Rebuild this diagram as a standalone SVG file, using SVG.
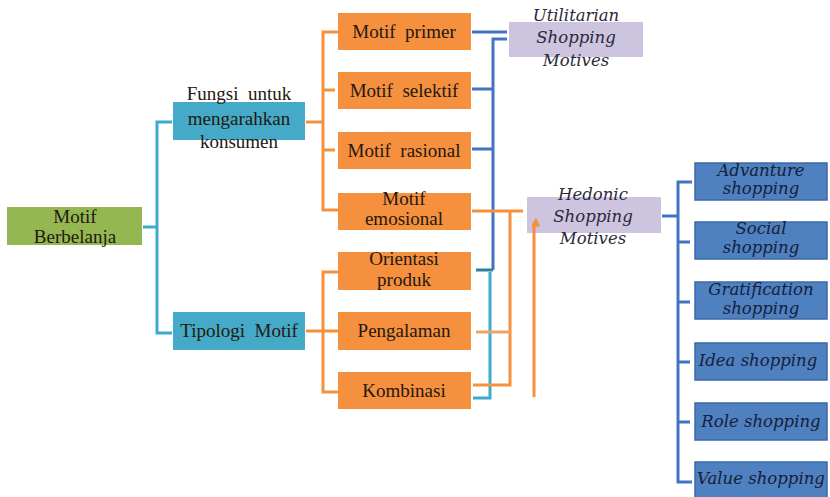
<svg xmlns="http://www.w3.org/2000/svg" width="830" height="497" viewBox="0 0 830 497">
  <style>
    .box-green { fill: #95b752; }
    .box-cyan { fill: #45a9c8; }
    .box-orange { fill: #f5903f; }
    .box-lav { fill: #cdc4e0; }
    .box-blue { fill: #4f80c0; stroke: #3d6aa6; stroke-width: 1.5; }
    text { white-space: pre; }
    .t { font-family: "Liberation Serif", "Times New Roman", serif; font-size: 19px; text-anchor: middle; fill: #24180f; }
    .ti { font-family: "DejaVu Serif", "Liberation Serif", serif; font-style: italic; font-size: 16.5px; text-anchor: middle; fill: #2a2a38; }
    .tb { font-family: "DejaVu Serif", "Liberation Serif", serif; font-style: italic; font-size: 16.5px; text-anchor: middle; fill: #15203a; }
    .c { fill: none; stroke-width: 3; stroke-linejoin: miter; }
    .c-cyan { stroke: #3fa9cf; }
    .c-orange { stroke: #f5903f; }
    .c-tan { stroke: #e9a56a; }
    .c-blue { stroke: #4472c4; }
    .c-teal { stroke: #2f7f98; }
  </style>
  <defs>
    <marker id="tip" viewBox="0 0 10 10" refX="5" refY="3" markerWidth="3" markerHeight="3" orient="auto" markerUnits="strokeWidth">
      <path d="M0,10 L5,0 L10,10 Z" fill="#f5903f" transform="rotate(90 5 5)"/>
    </marker>
  </defs>
  <rect width="830" height="497" fill="#ffffff"/>

  <g id="motif-berbelanja">
    <rect class="box-green" x="7" y="207" width="135" height="38"/>
    <text class="t" x="75" y="223">Motif</text>
    <text class="t" x="75" y="243">Berbelanja</text>
  </g>

  <g id="fungsi">
    <rect class="box-cyan" x="173" y="102" width="132" height="38"/>
    <text class="t" x="239" y="100">Fungsi  untuk</text>
    <text class="t" x="239" y="125">mengarahkan</text>
    <text class="t" x="239" y="148">konsumen</text>
  </g>

  <g id="tipologi">
    <rect class="box-cyan" x="173" y="312" width="132" height="38"/>
    <text class="t" x="239" y="337">Tipologi  Motif</text>
  </g>

  <g id="motif-primer">
    <rect class="box-orange" x="338" y="13" width="133" height="37"/>
    <text class="t" x="404" y="38">Motif  primer</text>
  </g>
  <g id="motif-selektif">
    <rect class="box-orange" x="338" y="72" width="133" height="37"/>
    <text class="t" x="404" y="97">Motif  selektif</text>
  </g>
  <g id="motif-rasional">
    <rect class="box-orange" x="338" y="132" width="133" height="37"/>
    <text class="t" x="404" y="157">Motif  rasional</text>
  </g>
  <g id="motif-emosional">
    <rect class="box-orange" x="338" y="193" width="133" height="37"/>
    <text class="t" x="404" y="205">Motif</text>
    <text class="t" x="404" y="225">emosional</text>
  </g>
  <g id="orientasi-produk">
    <rect class="box-orange" x="338" y="252" width="133" height="38"/>
    <text class="t" x="404" y="265">Orientasi</text>
    <text class="t" x="404" y="286">produk</text>
  </g>
  <g id="pengalaman">
    <rect class="box-orange" x="338" y="312" width="133" height="38"/>
    <text class="t" x="404" y="337">Pengalaman</text>
  </g>
  <g id="kombinasi">
    <rect class="box-orange" x="338" y="372" width="133" height="37"/>
    <text class="t" x="404" y="397">Kombinasi</text>
  </g>

  <g id="utilitarian">
    <rect class="box-lav" x="509" y="22" width="134" height="35"/>
    <text class="ti" x="576" y="21">Utilitarian</text>
    <text class="ti" x="576" y="43">Shopping</text>
    <text class="ti" x="576" y="66">Motives</text>
  </g>

  <g id="hedonic">
    <rect class="box-lav" x="527" y="197" width="134" height="36"/>
    <text class="ti" x="593" y="200">Hedonic</text>
    <text class="ti" x="593" y="222">Shopping</text>
    <text class="ti" x="593" y="244">Motives</text>
  </g>

  <g id="advanture">
    <rect class="box-blue" x="695" y="163" width="132" height="37"/>
    <text class="tb" x="761" y="176">Advanture</text>
    <text class="tb" x="761" y="194">shopping</text>
  </g>
  <g id="social">
    <rect class="box-blue" x="695" y="222" width="132" height="37"/>
    <text class="tb" x="761" y="234">Social</text>
    <text class="tb" x="761" y="253">shopping</text>
  </g>
  <g id="gratification">
    <rect class="box-blue" x="695" y="282" width="132" height="37"/>
    <text class="tb" x="761" y="295">Gratification</text>
    <text class="tb" x="761" y="314">shopping</text>
  </g>
  <g id="idea">
    <rect class="box-blue" x="695" y="343" width="132" height="37"/>
    <text class="tb" x="758" y="366">Idea shopping</text>
  </g>
  <g id="role">
    <rect class="box-blue" x="695" y="403" width="132" height="37"/>
    <text class="tb" x="761" y="427">Role shopping</text>
  </g>
  <g id="value">
    <rect class="box-blue" x="695" y="462" width="132" height="36"/>
    <text class="tb" x="761" y="484">Value shopping</text>
  </g>

  <!-- connectors, drawn last so the rising line shows over the Hedonic box -->
  <g id="connectors">
    <!-- root bracket -->
    <path class="c c-cyan" d="M143,227 H157 M172,122 H157 V333 H172"/>
    <!-- Fungsi bracket -->
    <path class="c c-orange" d="M306,122 H323 M338,32 H323 V210 H338 M323,90 H335 M323,150 H335"/>
    <!-- Tipologi bracket -->
    <path class="c c-orange" d="M306,331 H338 M338,272 H323 V392 H338"/>
    <!-- utilitarian links -->
    <path class="c c-blue" d="M472,32 H507 M507,39 H493 V270 M472,89 H493 M472,149 H493"/>
    <path class="c c-teal" d="M476,270 H493"/>
    <path class="c c-cyan" d="M490,272 V398 H473"/>
    <!-- hedonic links -->
    <path class="c c-orange" d="M472,211 H523 M510,212 V385 H473"/>
    <path class="c c-tan" d="M476,332 H510"/>
    <path class="c c-orange" d="M534,397 V222" marker-end="url(#tip)"/>
    <!-- hedonic sub-types bracket -->
    <path class="c c-blue" d="M662,216 H678 M692,182 H678 V482 H692 M678,242 H690 M678,302 H690 M678,362 H690 M678,422 H690"/>
  </g>
</svg>
